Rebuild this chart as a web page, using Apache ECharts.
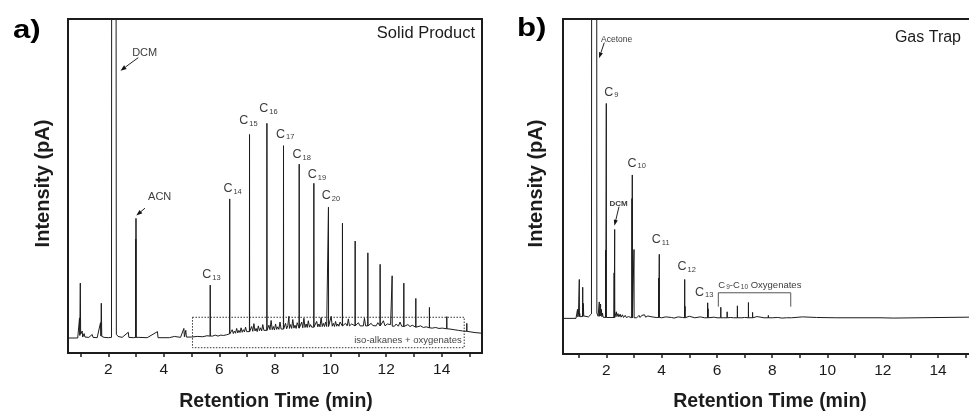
<!DOCTYPE html>
<html>
<head>
<meta charset="utf-8">
<script src="https://cdn.jsdelivr.net/npm/echarts@6/dist/echarts.min.js"></script>
<style>
  html, body { margin: 0; padding: 0; background: #fff; }
  #chart { width: 969px; height: 413px; }
</style>
</head>
<body>
<div id="chart"></div>
<script>
// ---------------------------------------------------------------------------
// Data: retention time (min) vs detector signal (relative units, baseline = 0)
// ---------------------------------------------------------------------------

// Shared axis ticks
const tickValues = [1, 2, 3, 4, 5, 6, 7, 8, 9, 10, 11, 12, 13, 14, 15];
const tickLabels = [2, 4, 6, 8, 10, 12, 14];

// (a) Solid product — baseline, solvent peaks and minor features [time, signal]
const solidBaseline = [
  [0.55, 0], [0.9, 0], [0.95, 0.2], [0.965, 6.3], [0.975, 0.8], [0.993, 17.2], [1.005, 1.2],
  [1.03, 0.6], [1.06, 2.2], [1.08, 0.3], [1.13, 1.4], [1.16, 0.3], [1.3, 0.2], [1.42, 1.1],
  [1.45, 0.2], [1.6, 0.1], [1.72, 4.8], [1.735, 0.6], [1.748, 10.9], [1.765, 0.5], [1.85, 0.2],
  [2.0, 0.1], [2.115, 0.2], [2.123, 150], [2.277, 150], [2.29, 1.2], [2.35, 0.5], [2.5, 0.2],
  [2.72, 1.8], [2.74, 0.2], [2.9, 0.1], [3.1, 0.2], [3.4, 0.1], [3.77, 2.0], [3.79, 0.1],
  [4.2, 0.1], [4.38, 0.5], [4.4, 0.1], [4.6, 0.2], [4.72, 3.0], [4.74, 0.4], [4.79, 2.4],
  [4.81, 0.3], [5.0, 0.3], [5.2, 0.5], [5.4, 0.4], [5.55, 0.7], [5.62, 1.0], [5.75, 0.6],
  [5.85, 0.9], [5.95, 0.6], [6.05, 0.9], [6.15, 0.8], [6.25, 1.0], [6.32, 1.2],
  [6.42, 1.2], [6.46, 2.6], [6.50, 1.4], [6.54, 2.2], [6.58, 1.5], [6.62, 3.0], [6.66, 1.6],
  [6.70, 2.4], [6.74, 1.7], [6.78, 3.2], [6.82, 1.8], [6.86, 2.6], [6.90, 1.9], [6.94, 3.4],
  [6.98, 2.0], [7.12, 2.2], [7.16, 3.6], [7.20, 2.1], [7.24, 4.5], [7.28, 2.2], [7.32, 3.0],
  [7.36, 2.0], [7.40, 3.8], [7.44, 2.3], [7.48, 3.2], [7.52, 2.2], [7.56, 4.2], [7.60, 2.4],
  [7.64, 3.0], [7.74, 2.5], [7.78, 4.0], [7.82, 2.6], [7.86, 5.5], [7.90, 2.6], [7.94, 3.6],
  [7.98, 2.5], [8.02, 4.4], [8.06, 2.7], [8.10, 3.5], [8.14, 2.7], [8.18, 5.0], [8.22, 2.8],
  [8.34, 3.0], [8.38, 4.6], [8.42, 2.9], [8.46, 3.8], [8.50, 6.8], [8.52, 3.0], [8.56, 4.2],
  [8.60, 3.0], [8.64, 5.8], [8.68, 3.1], [8.72, 4.0], [8.76, 3.0], [8.80, 4.8], [8.92, 3.2],
  [8.96, 5.0], [9.00, 3.2], [9.04, 6.2], [9.08, 3.3], [9.12, 4.4], [9.16, 3.3], [9.20, 5.4],
  [9.24, 3.4], [9.28, 4.2], [9.32, 3.4], [9.46, 3.5], [9.50, 5.2], [9.54, 3.5], [9.58, 4.4],
  [9.62, 3.5], [9.66, 6.4], [9.70, 3.6], [9.74, 4.6], [9.78, 3.6], [9.82, 5.0], [9.86, 3.6],
  [9.98, 3.7], [10.02, 6.8], [10.06, 3.7], [10.10, 4.6], [10.14, 3.6], [10.18, 5.2], [10.22, 3.7],
  [10.26, 4.4], [10.30, 3.7], [10.34, 5.0], [10.48, 3.8], [10.54, 4.6], [10.60, 3.8], [10.64, 6.0],
  [10.68, 3.8], [10.76, 4.4], [10.82, 3.8], [10.94, 3.8], [11.00, 4.8], [11.06, 3.8], [11.12, 4.2],
  [11.18, 3.8], [11.22, 6.2], [11.26, 3.8], [11.40, 3.8], [11.46, 4.6], [11.52, 3.9], [11.58, 4.4],
  [11.64, 3.8], [11.70, 4.8], [11.84, 3.8], [11.90, 5.4], [11.96, 3.8], [12.04, 4.4], [12.10, 3.8],
  [12.16, 4.2], [12.30, 3.7], [12.36, 4.4], [12.44, 3.7], [12.50, 5.0], [12.56, 3.7], [12.70, 3.6],
  [12.78, 4.2], [12.86, 3.6], [12.94, 4.0], [13.00, 3.5], [13.14, 3.4], [13.24, 3.8], [13.34, 3.3],
  [13.44, 3.5], [13.66, 3.1], [13.78, 3.3], [13.90, 3.0], [14.02, 3.1], [14.30, 2.8], [14.45, 2.6],
  [14.60, 2.4], [14.75, 2.2], [15.05, 1.9], [15.20, 1.7], [15.45, 1.5]
];
// Acetonitrile peak [time, apex, foot]
const solidOtherPeaks = [[2.99, 31.0, 0.2], [2.997, 37.5, 0.2]];
// Labelled n-alkanes C13–C20
const solidAlkaneCarbons = [13, 14, 15, 16, 17, 18, 19, 20];
const solidAlkaneTimes = [5.669, 6.37, 7.083, 7.709, 8.306, 8.871, 9.399, 9.924];
const solidAlkaneTops = [16.6, 43.6, 63.8, 67.3, 60.3, 54.5, 48.5, 41.0];
const solidAlkaneFeet = [0.6, 1.3, 2.0, 2.4, 2.8, 3.1, 3.4, 3.6];
// Heavier n-alkanes (C21 onwards)
const solidHeavyTimes = [10.428, 10.885, 11.342, 11.784, 12.216, 12.637, 13.068, 13.558, 14.183, 14.903];
const solidHeavyTops = [36.0, 30.4, 26.7, 23.1, 19.5, 17.2, 12.4, 9.6, 6.7, 4.6];
const solidHeavyFeet = [3.8, 3.8, 3.8, 3.8, 3.7, 3.6, 3.4, 3.2, 2.9, 2.1];
// Region of iso-alkanes and oxygenates [start time, end time, upper, lower]
const isoRegion = [5.03, 14.81, 6.5, -3.04];

// (b) Gas trap — baseline, solvent peaks and minor features [time, signal]
const trapBaseline = [
  [0.43, 0], [0.9, 0], [0.93, 0.4], [0.955, 3.0], [0.965, 0.5], [0.99, 1.2], [1.035, 1.6],
  [1.05, 0.6], [1.08, 1.2], [1.1, 0.6], [1.165, 5.0], [1.18, 0.8], [1.25, 0.6], [1.35, 0.5],
  [1.46, 1.5], [1.468, 150], [1.65, 150], [1.655, 1.8], [1.7, 0.7], [1.77, 1.0], [1.805, 1.2],
  [1.82, 3.0], [1.835, 0.6], [1.86, 1.8], [1.88, 0.4], [1.93, 0.3], [2.05, 0.3], [2.2, 0.3],
  [2.34, 0.8], [2.36, 2.2], [2.38, 0.6], [2.42, 1.6], [2.45, 0.5], [2.5, 1.4], [2.53, 0.4],
  [2.58, 1.2], [2.62, 0.3], [2.68, 1.0], [2.72, 0.3], [2.8, 0.6], [2.85, 0.2], [3.04, 0.3],
  [3.1, 0.2], [3.18, 1.0], [3.22, 0.3], [3.28, 1.0], [3.32, 0.4], [3.38, 1.2], [3.42, 0.4],
  [3.5, 0.8], [3.55, 0.2], [3.65, 0.5], [3.7, 0.1], [3.8, 0.3], [3.96, 0.5], [4.0, 0.2],
  [4.15, 0.5], [4.2, 0.1], [4.35, 0.3], [4.45, 0.1], [4.6, 0.5], [4.65, 0.1], [4.75, 0.3],
  [4.9, 0.3], [5.0, 0.7], [5.03, 0.1], [5.2, 0.2], [5.4, 0.5], [5.45, 0.1], [5.55, 0.2],
  [5.75, 0.2], [5.9, 0.4], [6.0, 0.2], [6.25, 0.2], [6.5, 0.3], [6.6, 0.2], [6.9, 0.2],
  [7.0, 0.3], [7.2, 0.2], [7.45, 0.6], [7.5, 0.1], [7.7, 0.2], [8.0, 0.2], [8.2, 0.3],
  [8.35, 0.1], [8.7, 0.2], [9.1, 0.5], [9.15, 0.1], [9.6, 0.3], [9.65, 0.1], [10.3, 0.2],
  [11.9, 0.2], [12.4, 0.1], [12.45, 0.45], [15.5, 0.45]
];
// Unlabelled peaks [time, apex, foot]
const trapOtherPeaks = [
  [1.02, 13.0, 0.6], [1.143, 10.4, 0.6], [1.743, 5.5, 0.7], [1.79, 4.8, 0.8],
  [1.975, 22.8, 0.3], [2.28, 15.2, 0.3], [2.30, 29.7, 0.3], [2.925, 40.0, 0.2],
  [2.999, 23.0, 0.2], [3.895, 13.5, 0.3], [4.845, 4.0, 0.2], [5.68, 3.2, 0.2],
  [6.14, 3.7, 0.2], [6.37, 2.2, 0.2], [6.74, 4.2, 0.2], [7.14, 5.3, 0.2],
  [7.29, 2.0, 0.2], [7.86, 1.0, 0.2], [8.52, 0.7, 0.2]
];
// Labelled n-alkanes C9–C13
const trapAlkaneCarbons = [9, 10, 11, 12, 13];
const trapAlkaneTimes = [1.997, 2.937, 3.914, 4.833, 5.665];
const trapAlkaneTops = [71.8, 47.9, 21.4, 13.0, 5.2];
const trapAlkaneFeet = [0.3, 0.2, 0.3, 0.2, 0.2];
// Elution window of C9–C10 oxygenates (min)
const oxygenateRange = [6.05, 8.67];

// ---------------------------------------------------------------------------
// Trace assembly: each peak becomes a narrow spike on the baseline
// ---------------------------------------------------------------------------
const SPIKE_HALF_WIDTH = 0.004;
function buildTrace(baseline, peakGroups) {
  const pts = baseline.map(p => [p[0], p[1]]);
  peakGroups.forEach(group => {
    group.forEach(([t, top, foot]) => {
      pts.push([t - SPIKE_HALF_WIDTH, foot], [t, top], [t + SPIKE_HALF_WIDTH, foot]);
    });
  });
  pts.sort((a, b) => a[0] - b[0]);
  return pts;
}
const zip3 = (a, b, c) => a.map((v, i) => [v, b[i], c[i]]);

const solidTrace = buildTrace(solidBaseline, [
  solidOtherPeaks,
  zip3(solidAlkaneTimes, solidAlkaneTops, solidAlkaneFeet),
  zip3(solidHeavyTimes, solidHeavyTops, solidHeavyFeet)
]);
const trapTrace = buildTrace(trapBaseline, [
  trapOtherPeaks,
  zip3(trapAlkaneTimes, trapAlkaneTops, trapAlkaneFeet)
]);

// ---------------------------------------------------------------------------
// Chart
// ---------------------------------------------------------------------------
const FONT = '"Liberation Sans", Arial, Helvetica, sans-serif';
const INK = '#1c1c1c';
const LABEL_INK = '#3c3c3c';

const chart = echarts.init(document.getElementById('chart'), null, { renderer: 'canvas' });

function xAxisFor(gridIndex, min, max) {
  return {
    type: 'value', gridIndex, min, max,
    axisLine: { show: true, onZero: false, lineStyle: { color: INK, width: 2 } },
    axisTick: { show: true, inside: false, length: 4, customValues: tickValues,
      lineStyle: { color: INK, width: 1.5 } },
    axisLabel: { show: true, customValues: tickLabels, margin: 9, color: '#1a1a1a',
      fontSize: 15.5, fontFamily: FONT },
    splitLine: { show: false }
  };
}
function yAxisFor(gridIndex, min, max) {
  return {
    type: 'value', gridIndex, min, max,
    axisLine: { show: false }, axisTick: { show: false },
    axisLabel: { show: false }, splitLine: { show: false }
  };
}
function traceSeries(index, data) {
  return {
    type: 'line', xAxisIndex: index, yAxisIndex: index, data,
    showSymbol: false, symbol: 'none', silent: true, clip: true,
    lineStyle: { color: INK, width: 1 }, z: 3
  };
}

const solidSeries = traceSeries(0, solidTrace);
solidSeries.markArea = {
  silent: true,
  itemStyle: { color: 'rgba(0,0,0,0)', borderColor: '#333', borderWidth: 1, borderType: [1.5, 1.5] },
  label: { show: true, position: 'insideBottomRight', distance: 3, color: '#444',
    fontSize: 9.5, fontFamily: FONT },
  data: [[{ coord: [isoRegion[0], isoRegion[2]], name: 'iso-alkanes + oxygenates' },
          { coord: [isoRegion[1], isoRegion[3]] }]]
};

const trapSeries = traceSeries(1, trapTrace);

// Bracket spanning the oxygenate window
const BRACKET_TOP = 8.55, BRACKET_FOOT = 3.9;
const bracketSeries = {
  type: 'line', xAxisIndex: 1, yAxisIndex: 1, silent: true, showSymbol: false, symbol: 'none',
  lineStyle: { color: '#555', width: 1 }, z: 4,
  data: [[oxygenateRange[0], BRACKET_FOOT], [oxygenateRange[0], BRACKET_TOP],
         [oxygenateRange[1], BRACKET_TOP], [oxygenateRange[1], BRACKET_FOOT]]
};

const option = {
  animation: false,
  backgroundColor: '#ffffff',
  grid: [
    { left: 68, top: 19, width: 414, height: 334, show: true, borderColor: INK, borderWidth: 2,
      backgroundColor: 'rgba(0,0,0,0)', outerBoundsMode: 'none', containLabel: false },
    { left: 563, top: 19, width: 416.5, height: 335, show: true, borderColor: INK, borderWidth: 2,
      backgroundColor: 'rgba(0,0,0,0)', outerBoundsMode: 'none', containLabel: false }
  ],
  xAxis: [xAxisFor(0, 0.55, 15.45), xAxisFor(1, 0.43, 15.5)],
  yAxis: [yAxisFor(0, -4.7, 100), yAxisFor(1, -11.9, 100)],
  series: [solidSeries, trapSeries, bracketSeries]
};
chart.setOption(option);

// ---------------------------------------------------------------------------
// Text annotations and pointer arrows
// ---------------------------------------------------------------------------
const subRich = (size, sub, drop) => ({
  c: { fontSize: size, lineHeight: size + 1.5, verticalAlign: 'top', fill: LABEL_INK, fontFamily: FONT },
  s: { fontSize: sub, lineHeight: size + 1.5, padding: [drop, 0, 0, 1], fill: LABEL_INK, fontFamily: FONT }
});

function carbonLabel(gridIndex, t, top, n, shift) {
  const p = chart.convertToPixel({ gridIndex }, [t, top]);
  const size = 12.5;
  return {
    type: 'text', silent: true, z: 20,
    x: p[0] + shift[0], y: p[1] + shift[1] - (size + 1.5) / 2,
    style: { text: '{c|C}{s|' + n + '}', align: 'center', verticalAlign: 'top',
      rich: subRich(size, 7.5, 5) }
  };
}
function plainText(x, y, text, size, opts) {
  return {
    type: 'text', silent: true, z: 20, x, y,
    style: Object.assign({ text, fontSize: size, fontFamily: FONT, fill: INK,
      align: 'center', verticalAlign: 'middle' }, opts || {})
  };
}
// Straight pointer with a filled head, ends given in data coordinates
function arrow(gridIndex, from, to, head) {
  const a = chart.convertToPixel({ gridIndex }, from);
  const b = chart.convertToPixel({ gridIndex }, to);
  const ang = Math.atan2(b[1] - a[1], b[0] - a[0]);
  const L = head[0], W = head[1];
  const bx = b[0] - L * Math.cos(ang), by = b[1] - L * Math.sin(ang);
  const nx = -Math.sin(ang) * W, ny = Math.cos(ang) * W;
  return [
    { type: 'line', silent: true, z: 19,
      shape: { x1: a[0], y1: a[1], x2: bx, y2: by },
      style: { stroke: '#222', lineWidth: 1 } },
    { type: 'polygon', silent: true, z: 19,
      shape: { points: [[b[0], b[1]], [bx + nx, by + ny], [bx - nx, by - ny]] },
      style: { fill: '#111' } }
  ];
}

// Label placement relative to each labelled apex (px)
const solidLabelShift = [[1.2, -10], [2.9, -9.8], [-1, -13], [1.6, -14], [1.7, -11], [2.5, -8.7], [3, -8], [2.5, -11]];
const trapLabelShift = [[5, -10.8], [4.4, -11.2], [1.4, -14.3], [2, -12.1], [-3.5, -9.9]];

const graphics = [];
solidAlkaneCarbons.forEach((n, i) => graphics.push(
  carbonLabel(0, solidAlkaneTimes[i], solidAlkaneTops[i], n, solidLabelShift[i])));
trapAlkaneCarbons.forEach((n, i) => graphics.push(
  carbonLabel(1, trapAlkaneTimes[i], trapAlkaneTops[i], n, trapLabelShift[i])));

// Compound names with pointers
graphics.push(plainText(144.7, 52.7, 'DCM', 11, { fill: LABEL_INK }));
graphics.push(plainText(159.7, 197, 'ACN', 11, { fill: LABEL_INK }));
graphics.push(plainText(616.7, 39.5, 'Acetone', 8.5, { fill: LABEL_INK }));
graphics.push(plainText(618.5, 203.5, 'DCM', 8, { fill: LABEL_INK, fontWeight: 'bold' }));
graphics.push(...arrow(0, [3.08, 87.9], [2.44, 83.8], [6, 2.2]));
graphics.push(...arrow(0, [3.32, 40.7], [3.01, 38.4], [6, 2.2]));
graphics.push(...arrow(1, [1.924, 92.1], [1.735, 86.9], [6, 2]));
graphics.push(...arrow(1, [2.456, 37.3], [2.29, 30.9], [6, 2]));

// Oxygenate window caption
const bracketLeft = chart.convertToPixel({ gridIndex: 1 }, [oxygenateRange[0], BRACKET_TOP]);
graphics.push({
  type: 'text', silent: true, z: 20, x: bracketLeft[0], y: bracketLeft[1] - 12.5,
  style: { text: '{c|C}{s|9}{c|-C}{s|10}{c| Oxygenates}', align: 'left', verticalAlign: 'top',
    rich: subRich(9.5, 6.5, 3.5) }
});

// Panel captions
graphics.push(plainText(475, 33, 'Solid Product', 16.5, { align: 'right' }));
graphics.push(plainText(961, 38, 'Gas Trap', 16, { align: 'right' }));
graphics.push(Object.assign(plainText(13, 31, 'a)', 26, { align: 'left', fontWeight: 'bold', fill: '#000' }), { scaleX: 1.2 }));
graphics.push(Object.assign(plainText(517, 29, 'b)', 26, { align: 'left', fontWeight: 'bold', fill: '#000' }), { scaleX: 1.2 }));

// Axis titles
graphics.push(plainText(276, 401.5, 'Retention Time (min)', 19.5, { fontWeight: 'bold' }));
graphics.push(plainText(770, 401.5, 'Retention Time (min)', 19.5, { fontWeight: 'bold' }));
graphics.push(Object.assign(plainText(43.5, 183.5, 'Intensity (pA)', 20, { fontWeight: 'bold' }), { rotation: Math.PI / 2 }));
graphics.push(Object.assign(plainText(536.5, 183.5, 'Intensity (pA)', 20, { fontWeight: 'bold' }), { rotation: Math.PI / 2 }));

chart.setOption({ graphic: { elements: graphics } });
</script>
</body>
</html>
